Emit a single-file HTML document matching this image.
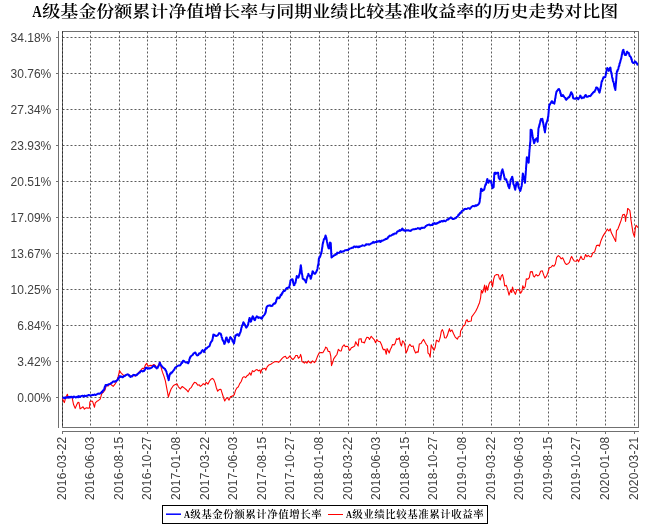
<!DOCTYPE html>
<html><head><meta charset="utf-8"><title>chart</title>
<style>
html,body{margin:0;padding:0;background:#fff;}
body{width:650px;height:525px;overflow:hidden;position:relative;}
svg{position:absolute;left:0;top:0;display:block;}
.t{font-family:"Liberation Serif","Noto Serif CJK SC",serif;font-weight:600;font-size:16px;fill:#000;}
.a{font-family:"Liberation Sans",sans-serif;font-size:12px;fill:#404040;}
.l{font-family:"Liberation Serif","Noto Serif CJK SC",serif;font-weight:600;font-size:10.5px;fill:#000;}
</style></head><body>
<svg width="650" height="525" viewBox="0 0 650 525">
<rect width="650" height="525" fill="#fff"/>
<text class="t" x="32.3" y="17" textLength="9.6" lengthAdjust="spacingAndGlyphs" style="font-size:16.5px">A</text><text class="t" x="42.3" y="17.2" textLength="576" lengthAdjust="spacingAndGlyphs" style="font-size:16px">级基金份额累计净值增长率与同期业绩比较基准收益率的历史走势对比图</text>
<rect x="62.5" y="31.5" width="576" height="396" fill="none" stroke="#707070" stroke-width="1" shape-rendering="crispEdges"/>
<g stroke="#5c5c5c" stroke-width="1" stroke-dasharray="2,2" fill="none">
<line x1="62.5" y1="31.5" x2="62.5" y2="427.5"/><line x1="90.5" y1="31.5" x2="90.5" y2="427.5"/><line x1="119.5" y1="31.5" x2="119.5" y2="427.5"/><line x1="147.5" y1="31.5" x2="147.5" y2="427.5"/><line x1="176.5" y1="31.5" x2="176.5" y2="427.5"/><line x1="205.5" y1="31.5" x2="205.5" y2="427.5"/><line x1="233.5" y1="31.5" x2="233.5" y2="427.5"/><line x1="262.5" y1="31.5" x2="262.5" y2="427.5"/><line x1="290.5" y1="31.5" x2="290.5" y2="427.5"/><line x1="319.5" y1="31.5" x2="319.5" y2="427.5"/><line x1="348.5" y1="31.5" x2="348.5" y2="427.5"/><line x1="376.5" y1="31.5" x2="376.5" y2="427.5"/><line x1="405.5" y1="31.5" x2="405.5" y2="427.5"/><line x1="433.5" y1="31.5" x2="433.5" y2="427.5"/><line x1="462.5" y1="31.5" x2="462.5" y2="427.5"/><line x1="491.5" y1="31.5" x2="491.5" y2="427.5"/><line x1="519.5" y1="31.5" x2="519.5" y2="427.5"/><line x1="548.5" y1="31.5" x2="548.5" y2="427.5"/><line x1="576.5" y1="31.5" x2="576.5" y2="427.5"/><line x1="605.5" y1="31.5" x2="605.5" y2="427.5"/><line x1="634.5" y1="31.5" x2="634.5" y2="427.5"/><line x1="62.5" y1="37.5" x2="638.5" y2="37.5"/><line x1="62.5" y1="73.5" x2="638.5" y2="73.5"/><line x1="62.5" y1="109.5" x2="638.5" y2="109.5"/><line x1="62.5" y1="145.5" x2="638.5" y2="145.5"/><line x1="62.5" y1="181.5" x2="638.5" y2="181.5"/><line x1="62.5" y1="217.5" x2="638.5" y2="217.5"/><line x1="62.5" y1="253.5" x2="638.5" y2="253.5"/><line x1="62.5" y1="289.5" x2="638.5" y2="289.5"/><line x1="62.5" y1="325.5" x2="638.5" y2="325.5"/><line x1="62.5" y1="361.5" x2="638.5" y2="361.5"/><line x1="62.5" y1="397.5" x2="638.5" y2="397.5"/><line x1="62.5" y1="31.5" x2="62.5" y2="427.5" stroke="#2a2a2a"/></g>
<g stroke="#707070" stroke-width="1" shape-rendering="crispEdges">
<line x1="58.5" y1="31" x2="58.5" y2="428"/><line x1="62" y1="431.5" x2="639" y2="431.5"/><line x1="56" y1="37.5" x2="58" y2="37.5"/><line x1="56" y1="73.5" x2="58" y2="73.5"/><line x1="56" y1="109.5" x2="58" y2="109.5"/><line x1="56" y1="145.5" x2="58" y2="145.5"/><line x1="56" y1="181.5" x2="58" y2="181.5"/><line x1="56" y1="217.5" x2="58" y2="217.5"/><line x1="56" y1="253.5" x2="58" y2="253.5"/><line x1="56" y1="289.5" x2="58" y2="289.5"/><line x1="56" y1="325.5" x2="58" y2="325.5"/><line x1="56" y1="361.5" x2="58" y2="361.5"/><line x1="56" y1="397.5" x2="58" y2="397.5"/><line x1="62.5" y1="432" x2="62.5" y2="434"/><line x1="90.5" y1="432" x2="90.5" y2="434"/><line x1="119.5" y1="432" x2="119.5" y2="434"/><line x1="147.5" y1="432" x2="147.5" y2="434"/><line x1="176.5" y1="432" x2="176.5" y2="434"/><line x1="205.5" y1="432" x2="205.5" y2="434"/><line x1="233.5" y1="432" x2="233.5" y2="434"/><line x1="262.5" y1="432" x2="262.5" y2="434"/><line x1="290.5" y1="432" x2="290.5" y2="434"/><line x1="319.5" y1="432" x2="319.5" y2="434"/><line x1="348.5" y1="432" x2="348.5" y2="434"/><line x1="376.5" y1="432" x2="376.5" y2="434"/><line x1="405.5" y1="432" x2="405.5" y2="434"/><line x1="433.5" y1="432" x2="433.5" y2="434"/><line x1="462.5" y1="432" x2="462.5" y2="434"/><line x1="491.5" y1="432" x2="491.5" y2="434"/><line x1="519.5" y1="432" x2="519.5" y2="434"/><line x1="548.5" y1="432" x2="548.5" y2="434"/><line x1="576.5" y1="432" x2="576.5" y2="434"/><line x1="605.5" y1="432" x2="605.5" y2="434"/><line x1="634.5" y1="432" x2="634.5" y2="434"/></g>
<text class="a" x="51.3" y="41.5" text-anchor="end">34.18%</text><text class="a" x="51.3" y="77.5" text-anchor="end">30.76%</text><text class="a" x="51.3" y="113.5" text-anchor="end">27.34%</text><text class="a" x="51.3" y="149.5" text-anchor="end">23.93%</text><text class="a" x="51.3" y="185.5" text-anchor="end">20.51%</text><text class="a" x="51.3" y="221.5" text-anchor="end">17.09%</text><text class="a" x="51.3" y="257.5" text-anchor="end">13.67%</text><text class="a" x="51.3" y="293.5" text-anchor="end">10.25%</text><text class="a" x="51.3" y="329.5" text-anchor="end">6.84%</text><text class="a" x="51.3" y="365.5" text-anchor="end">3.42%</text><text class="a" x="51.3" y="401.5" text-anchor="end">0.00%</text>
<text class="a" transform="translate(66.2,436.8) rotate(-90)" text-anchor="end" textLength="63.2" lengthAdjust="spacing">2016-03-22</text><text class="a" transform="translate(94.2,436.8) rotate(-90)" text-anchor="end" textLength="63.2" lengthAdjust="spacing">2016-06-03</text><text class="a" transform="translate(123.2,436.8) rotate(-90)" text-anchor="end" textLength="63.2" lengthAdjust="spacing">2016-08-15</text><text class="a" transform="translate(151.2,436.8) rotate(-90)" text-anchor="end" textLength="63.2" lengthAdjust="spacing">2016-10-27</text><text class="a" transform="translate(180.2,436.8) rotate(-90)" text-anchor="end" textLength="63.2" lengthAdjust="spacing">2017-01-08</text><text class="a" transform="translate(209.2,436.8) rotate(-90)" text-anchor="end" textLength="63.2" lengthAdjust="spacing">2017-03-22</text><text class="a" transform="translate(237.2,436.8) rotate(-90)" text-anchor="end" textLength="63.2" lengthAdjust="spacing">2017-06-03</text><text class="a" transform="translate(266.2,436.8) rotate(-90)" text-anchor="end" textLength="63.2" lengthAdjust="spacing">2017-08-15</text><text class="a" transform="translate(294.2,436.8) rotate(-90)" text-anchor="end" textLength="63.2" lengthAdjust="spacing">2017-10-27</text><text class="a" transform="translate(323.2,436.8) rotate(-90)" text-anchor="end" textLength="63.2" lengthAdjust="spacing">2018-01-08</text><text class="a" transform="translate(352.2,436.8) rotate(-90)" text-anchor="end" textLength="63.2" lengthAdjust="spacing">2018-03-22</text><text class="a" transform="translate(380.2,436.8) rotate(-90)" text-anchor="end" textLength="63.2" lengthAdjust="spacing">2018-06-03</text><text class="a" transform="translate(409.2,436.8) rotate(-90)" text-anchor="end" textLength="63.2" lengthAdjust="spacing">2018-08-15</text><text class="a" transform="translate(437.2,436.8) rotate(-90)" text-anchor="end" textLength="63.2" lengthAdjust="spacing">2018-10-27</text><text class="a" transform="translate(466.2,436.8) rotate(-90)" text-anchor="end" textLength="63.2" lengthAdjust="spacing">2019-01-08</text><text class="a" transform="translate(495.2,436.8) rotate(-90)" text-anchor="end" textLength="63.2" lengthAdjust="spacing">2019-03-22</text><text class="a" transform="translate(523.2,436.8) rotate(-90)" text-anchor="end" textLength="63.2" lengthAdjust="spacing">2019-06-03</text><text class="a" transform="translate(552.2,436.8) rotate(-90)" text-anchor="end" textLength="63.2" lengthAdjust="spacing">2019-08-15</text><text class="a" transform="translate(580.2,436.8) rotate(-90)" text-anchor="end" textLength="63.2" lengthAdjust="spacing">2019-10-27</text><text class="a" transform="translate(609.2,436.8) rotate(-90)" text-anchor="end" textLength="63.2" lengthAdjust="spacing">2020-01-08</text><text class="a" transform="translate(638.2,436.8) rotate(-90)" text-anchor="end" textLength="63.2" lengthAdjust="spacing">2020-03-21</text>
<polyline fill="none" stroke="#ff0000" stroke-width="1.1" stroke-linejoin="round" points="62.39,398.59 63.26,400.43 64.34,402.6 65.43,398.59 66.51,396.09 67.38,394.25 68.47,398.05 70.31,397.18 72.16,397.83 73.57,404.56 75.19,408.36 76.82,404.56 77.91,402.39 78.99,402.6 80.08,408.9 81.71,407.81 83.01,406.73 84.42,409.12 86.05,407.81 88,408.14 89.52,408.03 89.84,401.84 90.93,401.09 92.56,401.3 94.51,407.27 95.27,402.93 96.9,401.3 98.53,400.43 100.16,399.13 101.78,393.71 103.41,392.08 105.04,389.91 106.45,385.02 108.29,385.89 109.92,383.72 111.55,385.02 113.18,386.33 114.81,384.48 116.43,381.77 118.06,376.88 119.15,372.54 119.47,370.45 120.78,372.62 123.49,375.33 125.12,375.33 128.37,374.25 130.43,376.69 132.6,375.39 135.31,375.93 137.48,373.76 139.65,371.59 142.36,368.33 143.99,368.66 145.62,364.53 146.71,363.45 148.01,366.16 149.96,365.4 152.13,365.62 153.76,364.53 155.39,365.4 156.69,367.79 158.1,366.16 159.95,362.36 161.36,368.33 162.44,372.13 163.85,375.93 165.37,380.81 166.78,388.41 168.41,397.09 169.71,392.75 171.12,388.95 172.75,386.46 174.38,384.94 177.09,383.85 178.4,386.78 180.35,388.95 182.3,386.46 184.15,387.87 186.32,389.71 188.16,391.88 189.57,388.95 191.42,387.33 192.83,384.61 194.46,382.44 194.56,382.34 196.29,383.1 197.81,385.27 199.22,384.73 200.31,386.36 201.94,385.27 203.24,383.64 204.65,384.73 206.28,382.34 207.91,384.19 209.53,380.93 211.16,379.09 212.57,378.43 213.88,379.84 215.18,383.1 216.26,387.44 217.67,391.24 219.09,389.61 220.93,389.29 222.02,392.87 223.43,397.21 224.73,401.01 226.36,398.29 227.44,397.75 229.07,400.14 230.37,396.88 232.33,396.12 234.28,394.71 235.58,390.16 237.21,387.44 238.29,386.9 239.71,383.64 241.22,381.47 242.64,377.67 244.05,376.59 245.57,377.67 246.98,375.83 248.6,374.74 249.69,372.79 250.99,375.18 252.4,370.62 254.03,371.71 255.66,370.08 257.07,369.53 258.37,370.84 260,370.08 260.64,373.19 261.73,369.61 263.47,368.85 264.98,368.2 265.85,370.16 267.16,366.9 268.89,364.95 270.74,364.19 272.36,363.1 274.53,361.69 276.71,361.47 278.66,362.34 280.5,360.39 282.13,358.43 283.76,356.91 285.39,356.26 286.69,358.43 288.43,357.67 289.95,355.83 291.36,358.22 292.98,359.52 294.61,357.67 295.7,355.5 297.33,355.5 298.41,358.22 299.71,357.13 300.58,354.42 301.45,357.13 301.88,361.47 303.29,362.34 304.38,363.1 305.47,361.69 306.88,363.1 308.4,360.93 309.81,362.56 310.89,363.1 312.52,360.93 314.47,362.56 315.78,360.93 317.4,356.59 319.25,352.79 321.2,352.57 322.83,352.79 325,348.99 325.64,347.13 326.94,348 328.24,351.47 329.65,351.47 330.74,355.81 331.5,365.58 332.91,361.78 333.67,358.85 335.4,356.36 336.92,354.51 338.33,349.3 339.96,350.93 341.26,350.93 342.35,346.91 344.09,344.74 345.17,346.59 347.02,346.26 348.43,347.13 349.19,350.39 350.27,349.84 351.36,347.67 352.98,347.13 354.61,346.05 355.7,341.71 357.11,344.42 358.19,346.05 358.95,338.99 361.12,338.67 361.67,342.25 363.29,342.25 364.38,343.01 365.47,340.08 366.88,337.36 368.4,337.58 369.48,339.53 371.22,336.28 372.52,337.91 374.15,339.53 375.56,342.79 376.86,339.53 378.16,341.16 380.12,341.71 381.42,344.42 382.83,348.76 383.91,349.84 385,349.3 386.29,354.29 387.05,348.64 387.81,349.95 389.22,352.98 390.31,349.51 391.4,347.56 392.48,344.52 394.11,344.84 395.19,343.43 396.5,338.66 397.91,339.42 399.32,337.79 400.4,343.76 401.49,345.93 402.57,340.83 403.88,342.13 404.96,345.39 406.05,352.98 407.35,350.27 408.43,346.47 409.84,344.3 411.47,346.47 413.1,345.93 414.19,349.73 415.6,352.98 416.9,351.9 418.2,352.12 419.29,344.09 421.02,343.43 422.33,341.05 423.63,339.42 425.04,342.35 426.45,344.84 427.53,345.93 427.97,352.98 429.05,353.85 430.14,357.11 431.22,344.84 432.64,348.1 434.05,350.27 435.13,347.56 436.43,340.18 437.52,340.83 438.82,341.91 440.23,337.25 441.32,331.28 442.4,329.65 443.49,332.36 444.57,337.79 445.98,338.01 447.29,335.62 448.59,331.28 449.46,328.57 450.31,331.59 451.94,329.96 453.57,333.76 455.19,337.02 457.36,339.19 458.45,336.69 460.08,336.47 460.62,331.05 462.25,328.33 463.33,325.62 464.74,325.4 466.05,320.74 467.13,319.65 468,321.82 469.84,321.28 471.26,321.06 471.69,316.94 473.64,314.22 475.6,311.51 477.44,307.71 478.53,305 479.51,302.73 480.6,297.84 481.36,290.25 482.44,292.96 483.53,289.71 484.61,285.15 485.37,292.09 486.46,285.91 487.54,290.25 488.95,284.28 490.04,282.11 491.67,281.57 492.53,286.99 493.62,279.4 494.71,275.6 496.55,274.51 498.4,274.73 499.26,278.31 500.35,279.94 501.22,276.14 502.52,274.51 503.6,278.85 504.69,285.91 506.32,285.36 507.4,288.62 509.03,295.13 510.66,290.25 511.74,292.42 512.5,286.99 513.59,290.79 515,293.5 515.43,294.38 516.73,290.04 518.14,289.5 519.55,290.58 520.64,293.29 521.94,291.12 522.81,285.7 523.89,288.41 525.19,286.78 526.28,278.86 527.91,279.19 529.32,277.56 530.4,271.91 532.25,271.59 533.33,275.93 534.42,277.02 536.05,274.52 537.67,275.93 539.3,274.84 540.6,271.26 542.34,270.83 543.64,274.84 544.95,278.1 546.68,275.93 547.98,272.13 549.29,267.79 551.02,267.25 552.54,265.4 553.95,266.16 555.36,263.99 556.67,257.48 558.29,255.64 559.92,256.94 561.22,258.89 562.64,257.81 564.05,260.74 565.13,263.23 566.43,264.53 568.06,263.67 569.47,262.36 570.56,258.57 571.64,256.4 572.95,259.11 574.25,261.06 575.98,261.28 577.5,259.65 578.59,261.82 580,258.57 580.97,256.18 582.38,259.22 583.9,259.43 585.64,254.55 586.94,256.72 588.24,255.31 589.65,256.72 591.28,256.72 592.91,252.71 594.53,252.05 596.49,245.54 598.33,245.11 599.42,246.19 601.05,240.44 603,236.1 604.52,233.6 605.93,231.43 607.34,229.05 608.86,231 610.27,228.83 611.36,232.84 612.98,236.1 614.61,239.36 615.7,241.53 616.46,230.67 617.87,229.05 619.5,224.71 621.12,220.36 622.75,214.72 624.38,214.4 625.14,217.11 625.57,221.45 626.22,215.48 627.09,213.85 627.64,208.43 628.72,209.29 629.81,210.38 630.35,213.85 630.89,219.28 631.98,226.33 633.06,232.84 634.47,236.86 635.23,229.05 635.99,225.25 637.08,226.33 637.95,227.74"/>
<polyline fill="none" stroke="#0000ff" stroke-width="2" stroke-linejoin="round" points="62.39,398.21 63.09,397.89 63.8,397.58 64.5,398.21 65.21,397.32 65.91,397.9 66.62,397.59 67.33,397.09 68.03,397.65 68.73,396.92 69.44,397.4 70.14,396.82 70.85,397.35 71.57,396.71 72.3,397.12 73.02,397.62 73.74,396.57 74.47,396.65 75.19,397.15 75.91,397.53 76.64,396.95 77.36,396.64 78.08,397.38 78.81,396.02 79.53,396.59 80.25,397.02 80.98,396.15 81.7,395.87 82.43,395.76 83.15,395.96 83.87,396.6 84.6,395.63 85.32,396.12 86.05,396.13 86.77,395.68 87.49,395.86 88.22,395.11 88.94,395.03 89.67,395.16 90.39,395.5 91.11,395.62 91.84,395.13 92.56,394.84 93.28,395.09 94.01,394.77 94.73,394.43 95.45,394.99 96.18,394.72 96.9,394.31 97.62,393.67 98.35,393.85 99.07,393.5 99.79,393.7 100.52,393.21 101.24,392.61 101.78,391.77 102.32,392.19 102.87,390.44 103.41,390.32 103.95,389.89 104.18,389.55 104.42,388.01 104.65,387.78 104.88,386.46 105.11,386.64 105.35,386.08 105.58,385.01 106.3,385.04 107.03,385.39 107.75,384.79 108.56,384.2 109.38,384.14 110.1,383.98 110.83,383.41 111.55,382.84 112.37,382.3 113.18,381.54 113.9,381.37 114.63,381.8 115.35,381.21 116.07,381.47 116.8,380.45 117.52,380.12 117.84,379.72 118.17,378.24 118.5,378.51 118.82,377.8 119.14,377.65 119.47,376.33 120.17,376.95 120.86,376.37 121.56,376.69 122.25,377.25 122.95,377.19 123.67,376.05 124.4,376.2 125.12,375.78 125.93,375.05 126.75,374.7 127.56,374.35 128.37,374.7 128.88,375.63 129.4,375.29 129.92,376.01 130.43,376.92 131.15,376.33 131.88,376.57 132.6,375.62 133.32,374.82 134.05,375.12 134.77,374.97 135.85,375.62 136.39,375.11 136.94,375 137.48,373.88 138.3,373.68 139.11,372.58 139.83,372.55 140.56,371.18 141.28,370.95 142.09,371.11 142.91,371.5 143.45,370.76 143.99,370.95 144.53,369.87 145.07,369.79 145.62,367.93 146.16,367.7 146.97,367.79 147.79,368.78 148.51,368.3 149.24,368.19 149.96,368.46 150.78,368.06 151.59,367.7 152.2,367.28 152.82,366.28 153.43,366.07 154.13,365.65 154.84,366.61 155.46,367.11 156.07,367.66 156.69,368.46 157.16,367.94 157.63,367.86 158.1,366.61 158.41,366.24 158.72,365.37 159.02,364.87 159.33,364.32 159.64,362.82 159.95,362.81 160.3,364.05 160.66,364.56 161.01,365.37 161.36,365.53 161.9,366.67 162.44,366.83 162.98,367.7 163.8,368.1 164.61,368.78 165.02,368.9 165.43,370.33 165.83,370.21 166.24,371.5 166.43,371.59 166.61,372.49 166.8,373.12 166.98,374.06 167.17,374.36 167.35,374.98 167.54,376.38 167.76,376.65 167.98,377.34 168.19,378.47 168.41,378.76 168.63,380.18 168.78,379.93 168.94,378.79 169.09,377.36 169.25,376.73 169.4,376.09 169.56,375.34 169.71,374.75 170.18,373.5 170.65,373.79 171.12,372.58 171.94,372.73 172.75,371.5 173.29,370.73 173.84,370.03 174.38,369.33 174.92,368.03 175.47,367.33 176.01,367.16 176.82,366.39 177.64,366.07 178.45,365.47 179.26,365.53 180.07,365.45 180.89,364.44 181.32,363.25 181.76,362.34 182.19,362.92 182.63,361.62 183.06,360.86 183.88,360.8 184.69,361.73 185.5,362.23 186.32,362.6 187.24,362.32 188.16,363.36 188.39,362.68 188.63,362.58 188.87,361.7 189.1,360.74 189.33,359.41 189.57,359.02 189.84,358.15 190.12,357.19 190.39,357.36 190.66,356.3 191.47,355.81 192.29,355.22 192.83,354.96 193.37,353.67 193.91,353.26 195,352.5 195.49,352.73 195.97,353.74 196.51,354.72 197.06,355.51 197.6,355.37 198.14,355.14 198.68,354.35 199.22,353.2 200.03,353.38 200.85,352.66 201.26,352.37 201.66,351.03 202.07,350.81 202.48,350.16 203.02,350.61 203.57,350.81 204.11,352.12 204.44,350.7 204.76,350.29 205.09,349.5 205.41,349.35 205.74,348.32 206.55,348.58 207.36,347.56 208.18,346.94 208.99,346.47 209.32,346.37 209.64,345.72 209.97,344.96 210.29,343.42 210.62,342.89 211.16,341.78 211.71,341.06 212.25,340.72 212.38,339.52 212.52,338.76 212.66,338.58 212.79,338.19 212.93,337.33 213.06,336.06 213.2,335.53 213.33,334.54 213.95,335.39 214.56,334.83 215.18,335.84 216.16,335.95 217.13,335.62 217.62,335.57 218.11,334.77 218.6,334.1 219.09,333.12 219.7,333.45 220.32,333.4 220.93,334.21 221.13,335.29 221.34,335.33 221.54,336.67 221.75,337.59 221.95,337.46 222.15,338.14 222.36,339.59 222.56,339.64 222.88,340.68 223.21,340.62 223.53,341.29 223.86,342.04 224.19,343.82 224.51,343.98 224.72,343.69 224.92,342.04 225.13,342.27 225.33,341.76 225.54,340.58 225.74,339.43 225.95,338.98 226.15,337.68 226.36,337.47 226.67,337.49 226.98,339.52 227.29,339.77 227.6,340.3 227.91,341.56 228.22,341.56 228.53,342.35 228.79,342.13 229.06,341.32 229.32,339.71 229.58,339.03 229.84,338.34 230.11,337.52 230.37,337.14 230.76,337.87 231.15,338.02 231.55,338.85 231.94,339.06 232.33,340.18 232.65,341.4 232.98,341.28 233.3,342.07 233.63,342.9 233.95,343.43 234.1,343.26 234.25,341.84 234.39,341.79 234.54,340.47 234.69,339.77 234.84,339.02 234.99,337.58 235.14,337.43 235.28,336.33 235.43,335.34 235.58,335.29 236.4,335.17 237.21,334.21 237.75,334.29 238.3,335.26 238.84,335.84 239.17,335.4 239.49,334.4 239.82,333.32 240.14,332.83 240.47,332.04 240.65,331.39 240.83,330.99 241.01,329.32 241.19,329.23 241.37,328.07 241.55,327.39 241.73,327.36 241.91,326.26 242.09,325.53 242.35,324.96 242.61,324.59 242.88,324.15 243.14,322.84 243.4,322.27 243.87,323.15 244.34,323.72 244.81,324.44 245.09,325.11 245.37,326.01 245.66,326.33 245.94,327.09 246.22,327.7 246.59,327.02 246.96,327.01 247.32,326.02 247.69,325.62 248.06,324.44 248.22,324.34 248.37,322.66 248.53,322.35 248.69,322.17 248.84,321.3 249,319.59 249.16,318.85 249.31,318.57 249.47,317.93 249.73,318.09 249.99,319.09 250.26,319.61 250.52,321.21 250.78,321.73 251.02,321.45 251.27,320.93 251.51,319.21 251.75,319.32 252,318.56 252.24,317.16 252.49,317.51 252.73,316.3 253.04,317.59 253.34,317.17 253.65,318.83 253.96,318.69 254.26,319.45 254.57,320.1 254.93,320.15 255.29,319.3 255.66,317.73 256.02,317.47 256.38,316.96 256.74,316.3 257.28,316.62 257.83,316.96 258.37,317.93 259.19,317.41 260,317.39 260.58,318.13 261.15,317.57 261.73,318.67 262.12,318.14 262.51,317.37 262.9,316.17 263.29,316 263.68,315.63 264.22,315.08 264.77,314.2 265.31,313.46 265.47,312.13 265.62,312.69 265.78,311.69 265.94,311.23 266.09,309.29 266.25,308.79 266.41,307.75 266.56,308.06 266.72,306.95 267.34,306.27 267.95,305.7 268.57,305.86 269.38,305.48 270.19,305.32 271,306.17 271.82,305.86 272.36,305.76 272.91,304.44 273.45,304.23 274.17,303.2 274.9,303.74 275.62,302.61 275.85,302.01 276.09,301.49 276.32,299.94 276.55,299.2 276.78,299.38 277.02,298.31 277.25,297.72 278.06,297.39 278.88,298.26 279.31,298.22 279.75,297.15 280.18,296.73 280.62,295.08 281.05,295.01 281.44,294.92 281.82,293.22 282.21,293.75 282.6,292.59 282.99,291.83 283.37,291.54 283.76,290.88 284.57,291.1 285.39,290.12 285.93,289.07 286.48,288.15 287.02,287.95 287.74,287.88 288.47,287.37 289.19,287.63 289.33,286.36 289.47,285.7 289.61,284.82 289.75,284.3 289.89,283.73 290.04,283 290.18,282.9 290.32,281.52 290.46,281.09 290.6,280.36 291.21,279.55 291.83,279.42 292.44,279.27 292.62,279.34 292.79,280.41 292.97,280.83 293.14,282.58 293.32,283.07 293.5,283.31 293.67,284.46 293.85,285.24 294.36,285.13 294.86,283.24 295.37,283.07 295.51,282.81 295.65,281.57 295.79,280.95 295.93,280.72 296.07,279.4 296.22,278.85 296.36,278.4 296.5,278.11 296.64,276.5 296.78,276.02 297.32,277.03 297.87,277.39 298.41,277.64 298.67,277.07 298.93,275.99 299.19,275.15 299.45,273.98 299.71,273.85 299.8,272.61 299.89,271.8 299.98,272.01 300.07,270.61 300.16,269.76 300.25,268.92 300.35,269.26 300.44,268.58 300.53,267.57 300.62,266.3 300.71,265.52 300.8,265.16 300.9,265.61 301,266.58 301.09,266.9 301.19,268.04 301.29,268.53 301.39,270.25 301.49,271 301.59,271.15 301.68,271.46 301.78,273.21 301.88,273.3 302,273.81 302.13,274.65 302.25,274.93 302.38,276.24 302.5,277.14 302.63,277.96 302.75,278.73 303.56,278.85 304.38,279.81 304.79,280.5 305.19,280.48 305.6,281.52 306.01,282.53 306.16,281.26 306.32,280.99 306.47,279.79 306.63,279.07 306.78,278.76 306.94,277.96 307.09,277.64 307.35,277 307.61,276.16 307.88,275.72 308.14,274.83 308.4,273.85 308.87,274.88 309.34,275.83 309.81,276.02 310.08,276.54 310.35,277.13 310.62,278.73 310.89,278.73 311.05,277.5 311.22,277.57 311.38,276.72 311.54,275.14 311.7,275.51 311.87,274.85 312.03,273.74 312.19,273.15 312.36,272.53 312.52,271.35 313.01,271.47 313.5,272.63 313.98,273.23 314.47,273.85 314.98,273.78 315.48,273.19 315.99,272.22 316.27,272.02 316.55,271.03 316.84,270.81 317.12,269.87 317.4,268.96 317.56,268.46 317.71,267.03 317.87,265.98 318.02,265.35 318.18,264.89 318.33,263.76 318.49,263.54 318.54,263.23 318.59,262.06 318.64,261.38 318.7,260.6 318.75,259.89 318.8,258.86 319.13,258.2 319.45,256.86 319.78,257.33 320.1,256.61 320.43,255.61 320.65,254.89 320.86,254.21 321.08,253.66 321.3,252.1 321.51,252.32 321.73,251.26 321.83,250.19 321.92,249.22 322.02,248.76 322.12,248.69 322.21,247.23 322.31,247.26 322.41,246.86 322.5,245.46 322.6,244.75 322.75,243.89 322.91,243.33 323.06,242.92 323.22,242.34 323.37,241.43 323.53,240.77 323.68,239.87 324.23,238.73 324.77,238.78 324.96,237.47 325.15,236.81 325.34,236.68 325.53,235.53 325.73,235.98 325.93,237.07 326.12,237.02 326.32,237.81 326.52,238.82 326.72,239.87 326.86,240.86 326.99,241.63 327.13,242.35 327.26,242.56 327.4,243.62 327.54,244.3 327.67,245.05 327.81,245.84 328.08,245.98 328.35,247.75 328.62,247.45 328.89,248.55 329.03,248.47 329.16,247.67 329.3,245.64 329.44,245.51 329.57,245.27 329.71,244.73 329.84,243.26 329.98,242.58 330.74,243.12 330.78,243.52 330.82,244.16 330.85,245.91 330.89,245.6 330.93,246.84 330.97,246.95 331.01,248.21 331.04,249.53 331.08,249.1 331.12,250.79 331.16,251.07 331.2,252.33 331.23,252.79 331.27,252.85 331.31,254.51 331.35,254.65 331.39,254.73 331.42,255.42 331.46,256.83 331.5,257.56 332.15,257.02 332.8,256.34 333.45,256.15 334.17,255.18 334.9,254.99 335.62,254.74 336.16,254.02 336.71,254.29 337.25,252.65 337.79,252.89 338.51,252.88 339.24,252.64 339.96,251.81 340.68,251.17 341.41,252.19 342.13,251.48 342.85,251.52 343.58,251.54 344.3,250.72 345.02,250.25 345.75,250.18 346.47,250.18 347.19,249.74 347.92,250.3 348.64,249.31 349.36,249.07 350.09,248.39 350.81,248.23 351.53,247.98 352.26,247.62 352.98,247.79 353.71,246.8 354.43,246.51 355.16,246.71 355.88,247.18 356.61,246.41 357.33,246.71 358.05,247.39 358.78,246.5 359.5,246.92 360.22,246.23 360.95,246.22 361.67,245.84 362.39,245.33 363.12,245.52 363.84,245.62 364.56,245.79 365.29,245.22 366.01,244.21 366.73,244.65 367.46,244.39 368.18,244.21 368.9,244.68 369.63,244.61 370.35,243.88 371.07,243.52 371.8,243.32 372.52,242.58 373.24,241.88 373.97,242.76 374.69,242.36 375.41,242 376.14,242.14 376.86,241.5 377.58,241.7 378.31,241.2 379.03,241.5 379.75,240.8 380.48,241.95 381.2,241.28 381.92,240.47 382.65,240.66 383.37,240.41 384.19,239.76 385,239.54 385.68,238.85 386.37,239.06 387.05,238.32 387.59,238.44 388.13,236.9 388.68,236.91 389.22,236.15 389.95,235.62 390.67,235.72 391.4,235.39 392.12,234.95 392.85,234.34 393.57,234.52 394.29,233.68 395.02,233.38 395.74,233.43 396.28,233.46 396.83,232.34 397.37,231.41 397.91,231.26 398.72,231.18 399.53,229.96 400.35,230.77 401.16,230.18 401.71,229.29 402.25,228.55 402.61,228.66 402.97,229.35 403.33,230.4 404.05,230.04 404.78,230.61 405.5,231.05 406.22,230.26 406.95,230.25 407.67,230.4 408.39,230.17 409.12,230.71 409.84,230.72 410.57,230.9 411.29,230.35 412.02,229.64 412.74,229.41 413.47,229.3 414.19,229.31 414.91,229.2 415.64,228.85 416.36,228.88 417.08,228.54 417.81,228.05 418.53,228.55 419.25,228.24 419.98,229.2 420.7,228.55 421.42,227.77 422.15,228.05 422.87,227.79 423.59,227.75 424.32,227.86 425.04,227.14 425.58,226.28 426.12,225.89 426.67,225.4 427.21,225.29 427.93,224.9 428.66,224.71 429.38,224.54 430.1,225.25 430.83,225.17 431.55,224.75 432.27,224.98 433,223.5 433.72,223.88 434.44,223.08 435.17,223.89 435.89,223.45 436.61,223.79 437.34,222.98 438.06,222.8 438.78,222.67 439.51,221.59 440.23,222.04 441.05,221.34 441.86,220.95 442.58,221.44 443.31,221.19 444.03,220.63 444.75,221.13 445.48,221.29 446.2,220.63 446.92,219.91 447.65,219.36 448.37,219.54 448.91,218.55 449.46,218.56 450,218.02 450.97,217.33 451.69,218.09 452.42,218.96 453.14,218.85 453.86,218.91 454.59,218.55 455.31,218.09 456.03,217.92 456.76,216.94 457.48,216.46 458.02,215.85 458.56,214.46 459.11,214.82 459.65,213.74 460.19,212.69 460.74,212.97 461.28,211.91 461.82,211.03 462.63,210.49 463.45,210.49 463.99,209.43 464.54,209.06 465.08,208.86 465.8,208.98 466.53,208.99 467.25,208.64 468.15,208.17 469.06,208.19 469.96,208.86 470.5,208.17 471.05,207.53 471.59,206.69 472.31,206.35 473.04,205.94 473.76,206.15 474.66,206.18 475.57,205.24 476.47,205.82 477.29,205 478.1,204.74 478.57,203.89 479.04,203.79 479.51,202.35 479.62,201.78 479.73,201.34 479.84,199.99 479.94,198.88 480.05,198.12 480.16,198.34 480.27,196.92 480.34,196.47 480.41,195.17 480.48,194.03 480.55,193.96 480.62,193.46 480.68,192.37 480.75,191.4 480.82,191.23 480.89,190.86 480.96,189.14 481.03,188.78 481.5,188.85 481.97,190 482.44,190.95 483.06,190.3 483.67,190.13 484.29,189.33 484.45,188.09 484.62,188.12 484.78,187.22 484.94,186.07 485.26,185.4 485.59,184.3 485.92,184.7 486.24,183.36 486.42,182.37 486.6,182.36 486.78,180.81 486.97,180.08 487.15,180.11 487.33,179.02 487.55,179.49 487.76,181.17 487.98,181.29 488.19,181.61 488.41,182.81 488.84,181.7 489.28,181.25 489.71,180.64 490.41,181.42 491.12,181.73 491.28,183.08 491.43,182.68 491.59,183.75 491.75,184.22 491.9,186.01 492.06,185.57 492.22,186.17 492.37,186.9 492.53,188.24 493.07,187.55 493.62,187.16 493.66,187.01 493.7,186.29 493.73,185.37 493.77,185.03 493.81,184.24 493.85,182.69 493.89,181.78 493.92,182.13 493.96,181.16 494,179.45 494.04,179.63 494.08,178.52 494.11,177.81 494.15,177.05 494.19,176.11 494.23,175.18 494.27,174.86 494.3,174.25 494.34,174.39 494.38,173.05 495.1,172.59 495.83,173.84 496.55,173.26 497.37,172.64 498.18,172.83 498.26,173.36 498.33,174.74 498.41,175.47 498.49,175.65 498.57,175.84 498.64,177.16 498.72,177.93 499.26,178.3 499.81,179.6 500.35,179.56 500.46,178.38 500.57,177.88 500.68,177.88 500.79,175.92 500.89,175.7 501,175.52 501.11,174.71 501.22,173.59 501.44,172.22 501.65,171.49 501.87,170.81 502.09,171.28 502.3,169.63 502.52,169.25 502.7,170.32 502.88,171.25 503.06,171.19 503.24,171.82 503.42,173.51 503.6,173.59 503.76,174.53 503.91,174.81 504.07,176.22 504.22,176.44 504.38,177.15 504.53,177.55 504.69,179.02 505.5,179.54 506.32,179.34 506.56,180.68 506.79,181.05 507.02,182.24 507.26,181.71 507.5,182.77 507.73,183.9 507.98,184.59 508.24,185.99 508.49,186.71 508.74,186.63 509,187.17 509.25,188.24 509.38,187.4 509.51,186.75 509.63,186.62 509.76,184.84 509.89,184.96 510.02,184.13 510.15,183.51 510.28,182.7 510.4,181.73 510.53,180.6 510.66,180.1 510.99,179.2 511.31,178.61 511.64,178.55 511.96,176.91 512.29,176.85 512.41,177.12 512.53,178.58 512.64,178.57 512.76,179 512.88,179.65 513,181.06 513.12,181.44 513.24,183.04 513.35,183.6 513.47,184.43 513.59,184.44 513.83,184.83 514.06,185.3 514.3,186.04 514.53,187.33 514.76,188.35 515,188.78 515.21,189.83 515.33,189.03 515.45,188.01 515.57,187.54 515.69,187.11 515.81,186.46 515.93,185.84 516.05,185.25 516.17,184.27 516.29,183.32 516.94,182.24 517.6,182.23 517.75,183.48 517.91,183.49 518.06,184.65 518.22,185.16 518.37,186.44 518.53,186.46 518.68,187.66 519.01,187.96 519.33,188.61 519.66,189.13 519.98,190.81 520.31,190.92 520.49,190.35 520.66,189.32 520.84,188.74 521.01,188.89 521.19,187.54 521.37,186.47 521.54,186.6 521.72,185.49 521.78,185 521.85,184.77 521.91,182.83 521.98,182.65 522.04,182.42 522.1,181.75 522.17,181.15 522.23,179.23 522.3,178.88 522.36,177.93 522.43,177.33 522.49,177.72 522.55,176.48 522.62,176.26 522.68,174.78 522.75,174.76 522.81,173.55 522.99,174.2 523.17,174.66 523.35,176.11 523.53,177.07 523.71,176.61 523.89,177.89 524.05,178.72 524.2,179.46 524.36,179.59 524.51,180.5 524.67,180.88 524.82,181.67 524.98,182.78 525.04,181.69 525.1,181.42 525.16,180.74 525.21,179.36 525.27,178.34 525.33,178.03 525.39,177.77 525.45,176.33 525.51,175.75 525.56,174.85 525.62,174.93 525.68,173.83 525.74,173.01 525.79,171.68 525.84,171.02 525.89,170.72 525.94,170.22 525.99,169.63 526.03,168.14 526.08,167.53 526.13,167.56 526.18,166.44 526.23,165.55 526.28,164.87 526.33,165.06 526.38,163.45 526.43,163.09 526.48,162.08 526.53,161.45 526.57,161.36 526.62,160.83 526.67,159.23 526.72,158.28 526.77,158.3 526.82,157.27 527.37,157.67 527.91,158.9 528.06,158.97 528.21,160.98 528.37,161.07 528.52,162.39 528.67,162.7 528.72,161.84 528.77,161.79 528.81,160.47 528.86,159.33 528.91,158.4 528.96,158.43 529,157.83 529.05,157.48 529.1,155.61 529.15,155.63 529.2,154.56 529.24,154.02 529.29,152.79 529.34,152.26 529.39,151.87 529.43,151.71 529.48,149.85 529.53,149.67 529.6,148.95 529.66,148.68 529.73,148.2 529.8,146.41 529.86,145.6 529.93,146.03 530,145.37 530.07,143.97 530.13,142.66 530.2,143.17 530.27,141.71 530.33,141.73 530.4,140.45 530.41,139.9 530.43,139.47 530.44,137.82 530.46,137.98 530.47,136.47 530.49,136.01 530.5,135.91 530.52,135.17 530.53,133.55 530.55,132.88 530.56,132.42 530.58,131.87 530.59,130.96 530.61,129.88 530.62,129.69 531.71,130.23 531.82,130.62 531.93,132.04 532.03,133.02 532.14,132.57 532.25,134.05 532.36,135.07 532.46,134.81 532.57,136.2 532.72,137.38 532.87,137.08 533.03,138.46 533.18,139.09 533.33,139.91 533.48,140.16 533.63,141.03 533.79,141.96 533.94,142.45 534.09,143.26 534.37,142.72 534.65,141.67 534.94,140.89 535.22,139.55 535.5,139.46 536.05,139.08 536.59,138.37 536.86,139.17 537.13,139.63 537.4,141.18 537.67,141.63 537.71,141.29 537.76,140.1 537.8,138.98 537.85,138.66 537.89,137.41 537.94,136.71 537.98,136.39 538.03,135.19 538.07,134.94 538.12,134.3 538.16,132.91 538.21,133.01 538.25,131.5 538.3,131.68 538.34,131.01 538.39,129.9 538.43,129.15 538.61,127.78 538.78,127.66 538.96,126.74 539.13,126.8 539.31,124.91 539.49,125.17 539.66,124.62 539.84,123.18 540.02,122.82 540.2,122.24 540.38,120.69 540.57,121.1 540.75,119.73 540.93,119.05 541.63,119.58 542.34,118.84 542.48,120.15 542.63,119.82 542.77,121.41 542.92,122.34 543.06,121.85 543.21,122.97 543.35,124.26 543.5,124.15 543.64,125.35 543.77,126.61 543.9,126.44 544.03,127.91 544.16,127.67 544.3,128.88 544.43,130.17 544.56,129.88 544.69,130.66 544.82,131.7 544.95,132.4 545.05,131.41 545.15,130.27 545.24,129.73 545.34,128.97 545.44,129.31 545.54,128.21 545.64,127.77 545.74,126.02 545.83,126.14 545.93,124.46 546.03,124.26 546.26,123.58 546.5,123 546.74,121.89 546.97,121.89 547.21,120.72 547.44,119.92 547.63,119.22 547.82,118.83 548.01,116.93 548.2,116.67 548.26,116.66 548.33,115.45 548.39,114.41 548.46,114.28 548.52,112.83 548.58,113.14 548.65,111.86 548.71,110.86 548.78,110.72 548.84,109.57 548.91,108.49 548.97,108.58 549.03,106.91 549.1,107.28 549.16,105.79 549.23,105.63 549.29,104.73 549.76,104.86 550.23,103.76 550.7,103.1 551.06,102.72 551.42,101.61 551.78,101.26 552.14,101.18 552.51,101.83 552.87,103.1 553.58,102.88 554.28,103.64 554.43,103.03 554.59,102 554.74,101.33 554.9,101.1 555.05,99.25 555.21,98.61 555.36,98.22 555.48,97.71 555.6,96.1 555.72,95.35 555.84,95.12 555.97,94.05 556.09,93.68 556.21,92.77 556.33,92.55 556.45,91.71 557.1,91.02 557.75,90.08 558.4,89.12 559.05,88.99 559.32,89.84 559.6,90.31 559.87,90.52 560.14,91.71 560.32,93.04 560.5,92.8 560.68,93.39 560.86,94.04 561.04,95.52 561.22,96.05 562.09,96.02 562.96,94.96 563.39,96.08 563.83,96.27 564.26,97.13 564.75,97.48 565.24,97.81 565.73,99.37 566.22,99.85 566.68,99.39 567.14,98.55 567.6,98.42 568.06,97.67 568.6,97.05 569.15,97.2 569.69,96.05 570.02,95.62 570.34,94.18 570.67,94.33 570.99,92.37 571.32,92.25 571.68,93.02 572.04,93.57 572.4,94.42 572.55,94.81 572.7,95.32 572.86,97.09 573.01,96.78 573.16,98.22 574.03,98.56 574.9,98.76 575.66,98.83 576.42,97.67 577,97.71 577.58,98.34 578.16,99.3 578.53,98.84 578.9,98.09 579.26,97.67 579.63,97.31 580,96.26 580.21,95.63 580.59,95.85 580.97,96.72 581.35,97.38 581.73,98.34 582.6,97.44 583.47,97.8 583.93,97.67 584.39,96.84 584.85,96.07 585.31,95.09 585.85,94.94 586.4,96.65 586.94,96.71 587.76,96.78 588.57,96.17 589.29,95.94 590.02,96.15 590.74,95.63 591.28,94.91 591.82,93.94 592.36,93.67 592.9,92.66 593.44,92.38 593.99,91.64 594.53,91.83 594.8,90.88 595.07,90.73 595.35,89.93 595.62,89.42 595.89,88.51 596.16,87.49 596.87,87.43 597.57,88.03 597.83,88.76 598.1,89.24 598.36,90.39 598.63,90.67 598.89,90.96 599.16,92.14 599.42,92.59 599.64,92.44 599.85,90.59 600.07,90.71 600.28,88.7 600.5,88.57 600.62,87.51 600.74,86.75 600.86,86.74 600.98,86.3 601.11,85.3 601.23,83.99 601.35,84.04 601.47,82.54 601.59,82.06 601.85,81 602.12,81.24 602.38,80.15 602.64,79.54 602.9,78.81 603.17,78.55 603.43,77.18 604.3,77.14 605.17,77.18 605.33,76.91 605.5,75.96 605.66,75.44 605.82,74.11 605.98,73.76 606.14,72.8 606.31,71.69 606.47,71.21 606.69,69.99 606.9,69.75 607.12,68.17 607.34,67.95 607.72,69.26 608.1,68.92 608.48,69.49 608.86,70.88 609.14,69.68 609.42,70.18 609.71,68.71 609.99,67.78 610.27,67.63 610.43,67.71 610.58,68.48 610.74,70.13 610.89,70.79 611.05,71.63 611.2,72.43 611.36,72.84 611.51,73.01 611.67,74.52 611.82,74.97 611.98,76.38 612.13,77.16 612.29,78.03 612.44,78.26 612.62,78.38 612.8,80.22 612.98,81.01 613.16,81.78 613.35,81.33 613.53,82.19 613.71,82.79 613.89,83.4 614.07,84.78 614.26,86.01 614.44,86.7 614.63,87.2 614.81,88.21 615,88.68 615.18,88.94 615.37,89.98 615.43,88.71 615.49,88 615.54,88.21 615.6,86.73 615.66,86.18 615.72,85.62 615.78,84.35 615.83,83.97 615.89,83.3 615.95,83.2 616.01,82 616.07,81.23 616.12,81.42 616.18,80.06 616.24,79.35 616.29,79.14 616.35,78.1 616.4,76.58 616.46,76.4 616.51,75.73 616.56,75.5 616.62,74.19 616.67,73.99 616.73,73.05 616.78,72.29 617.11,71.14 617.43,71.28 617.76,69.44 618.08,69.71 618.41,68.5 618.6,67.34 618.78,66.4 618.97,65.99 619.15,66.07 619.34,65.68 619.52,63.61 619.71,63.61 619.91,62.9 620.11,62.2 620.31,61.93 620.52,60.38 620.72,60.12 620.92,59.21 621.12,58.73 621.26,58.49 621.4,56.98 621.54,57.23 621.68,55.6 621.83,54.8 621.97,54.77 622.11,53.79 622.25,52.54 622.39,52.57 622.53,51.67 623.02,50.16 623.51,49.83 623.68,50.96 623.85,51.56 624.02,52.42 624.2,52.92 624.37,53.27 624.54,54.06 624.71,54.93 626.01,54.93 626.28,53.97 626.55,53.85 626.82,51.91 627.09,51.67 627.75,52.76 628.4,52.76 628.68,52.75 628.96,53.65 629.25,54.38 629.53,55.93 629.81,56.02 630.35,56.56 630.89,57.1 631.09,57.63 631.29,59.03 631.49,58.82 631.7,59.83 631.9,60.63 632.1,61.64 632.3,61.98 632.95,62.88 633.6,63.07 634.14,62.73 634.69,61.77 635.23,61.44 635.78,62.01 636.32,63.07 636.86,63.13 637.41,64.64 637.95,64.7"/>
<rect x="162.5" y="505.5" width="325" height="18" fill="#fff" stroke="#000" stroke-width="1" shape-rendering="crispEdges"/>
<line x1="166" y1="514.2" x2="181" y2="514.2" stroke="#0000ff" stroke-width="1.5"/><text class="l" x="184" y="517.8" textLength="6" lengthAdjust="spacingAndGlyphs">A</text><text class="l" x="190.3" y="517.8" style="letter-spacing:0.5px">级基金份额累计净值增长率</text>
<line x1="328" y1="514.5" x2="343" y2="514.5" stroke="#ff0000" stroke-width="1"/><text class="l" x="346" y="517.8" textLength="6" lengthAdjust="spacingAndGlyphs">A</text><text class="l" x="352.3" y="517.8" style="letter-spacing:0.5px">级业绩比较基准累计收益率</text>
</svg></body></html>
